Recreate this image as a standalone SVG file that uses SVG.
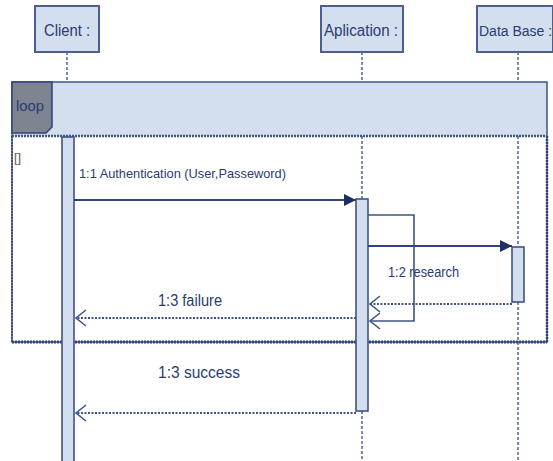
<svg xmlns="http://www.w3.org/2000/svg" width="553" height="461" viewBox="0 0 553 461">
<style>
.box{fill:#d3deef;stroke:#4c5f8c;stroke-width:2}
.act{fill:#d3deef;stroke:#3f5384;stroke-width:1.6}
.life{stroke:#5a6e98;stroke-width:1.6;stroke-dasharray:3 2;fill:none}
.txt{font-family:"Liberation Sans",Arial,sans-serif;fill:#2a3c70}
.msg{stroke:#2f4478;stroke-width:2;fill:none}
.ret{stroke:#3f5384;stroke-width:1.8;stroke-dasharray:2 1.5;fill:none}
.open{stroke:#3f5384;stroke-width:1.6;fill:none}
</style>
<defs>
<marker id="filled" viewBox="0 0 10 10" refX="10" refY="5" markerWidth="12" markerHeight="12" markerUnits="userSpaceOnUse" orient="auto">
<path d="M0,0 L10,5 L0,10 Z" fill="#1f2f66"/>
</marker>
</defs>
<rect width="553" height="461" fill="#ffffff"/>

<g id="client">
<rect class="box" x="35" y="6" width="64" height="46"/>
<text class="txt" x="67" y="36" font-size="16" text-anchor="middle" textLength="46" lengthAdjust="spacingAndGlyphs">Client :</text>
</g>
<g id="aplication">
<rect class="box" x="321" y="6" width="82" height="46"/>
<text class="txt" x="361" y="36" font-size="16" text-anchor="middle" textLength="74" lengthAdjust="spacingAndGlyphs">Aplication :</text>
</g>
<g id="database">
<rect class="box" x="477" y="6" width="76" height="46"/>
<text class="txt" x="479" y="36" font-size="14">Data Base :</text>
</g>

<g id="lifelines">
<line class="life" x1="67" y1="52" x2="67" y2="82"/>
<line class="life" x1="362" y1="52" x2="362" y2="82"/>
<line class="life" x1="518" y1="52" x2="518" y2="82"/>
<line class="life" x1="362" y1="136" x2="362" y2="199"/>
<line class="life" x1="518" y1="136" x2="518" y2="246"/>
<line class="life" x1="518" y1="302" x2="518" y2="461"/>
<line class="life" x1="362" y1="411" x2="362" y2="461"/>
</g>

<g id="loop">
<rect x="12" y="82" width="535" height="54" fill="#d3deef"/>
<rect x="12" y="82" width="535" height="260" fill="none" stroke="#3f5384" stroke-width="1.5"/>
<line x1="12" y1="136" x2="547" y2="136" stroke="#3f5384" stroke-width="2.5" stroke-dasharray="2 1"/>
<line x1="12" y1="342" x2="547" y2="342" stroke="#2f4478" stroke-width="3" stroke-dasharray="2 1"/>
<line x1="12" y1="136" x2="12" y2="342" stroke="#3f5384" stroke-width="2" stroke-dasharray="2 1"/>
<line x1="547" y1="136" x2="547" y2="342" stroke="#2f4478" stroke-width="2.5" stroke-dasharray="2 1"/>
<path d="M12,82 H52 V127 L46,133 H12 Z" fill="#7f8590" stroke="#2f4478" stroke-width="1.5"/>
<text class="txt" x="16" y="111" font-size="15" fill="#3a4a70" textLength="28" lengthAdjust="spacingAndGlyphs">loop</text>
<text x="14" y="162" font-family="Liberation Sans,Arial,sans-serif" font-size="13" fill="#6a5a40">[]</text>
</g>

<g id="activations">
<rect class="act" x="62" y="137" width="12" height="330"/>
<rect class="act" x="356" y="199" width="12" height="212"/>
<rect class="act" x="512" y="247" width="12" height="55"/>
</g>

<g id="connectors">
<path class="msg" d="M74,200 H356" marker-end="url(#filled)"/>
<path class="open" d="M368,215 H414 V321 H370"/>
<path class="open" d="M380,313 L370,321 L380,329"/>
<path class="msg" d="M368,246 H512" marker-end="url(#filled)"/>
<path class="ret" d="M512,304 H370"/>
<path class="open" d="M380,296 L370,304 L380,312"/>
<path class="ret" d="M356,318 H76"/>
<path class="open" d="M86,310 L76,318 L86,326"/>
<path class="ret" d="M356,413 H76"/>
<path class="open" d="M86,405 L76,413 L86,421"/>
</g>

<g id="labels">
<text class="txt" x="79" y="178" font-size="13.5" textLength="207" lengthAdjust="spacingAndGlyphs">1:1 Authentication (User,Passeword)</text>
<text class="txt" x="388" y="277" font-size="14" textLength="71" lengthAdjust="spacingAndGlyphs">1:2 research</text>
<text class="txt" x="158" y="306" font-size="16" textLength="64" lengthAdjust="spacingAndGlyphs">1:3 failure</text>
<text class="txt" x="158" y="378" font-size="16" textLength="82" lengthAdjust="spacingAndGlyphs">1:3 success</text>
</g>
</svg>
